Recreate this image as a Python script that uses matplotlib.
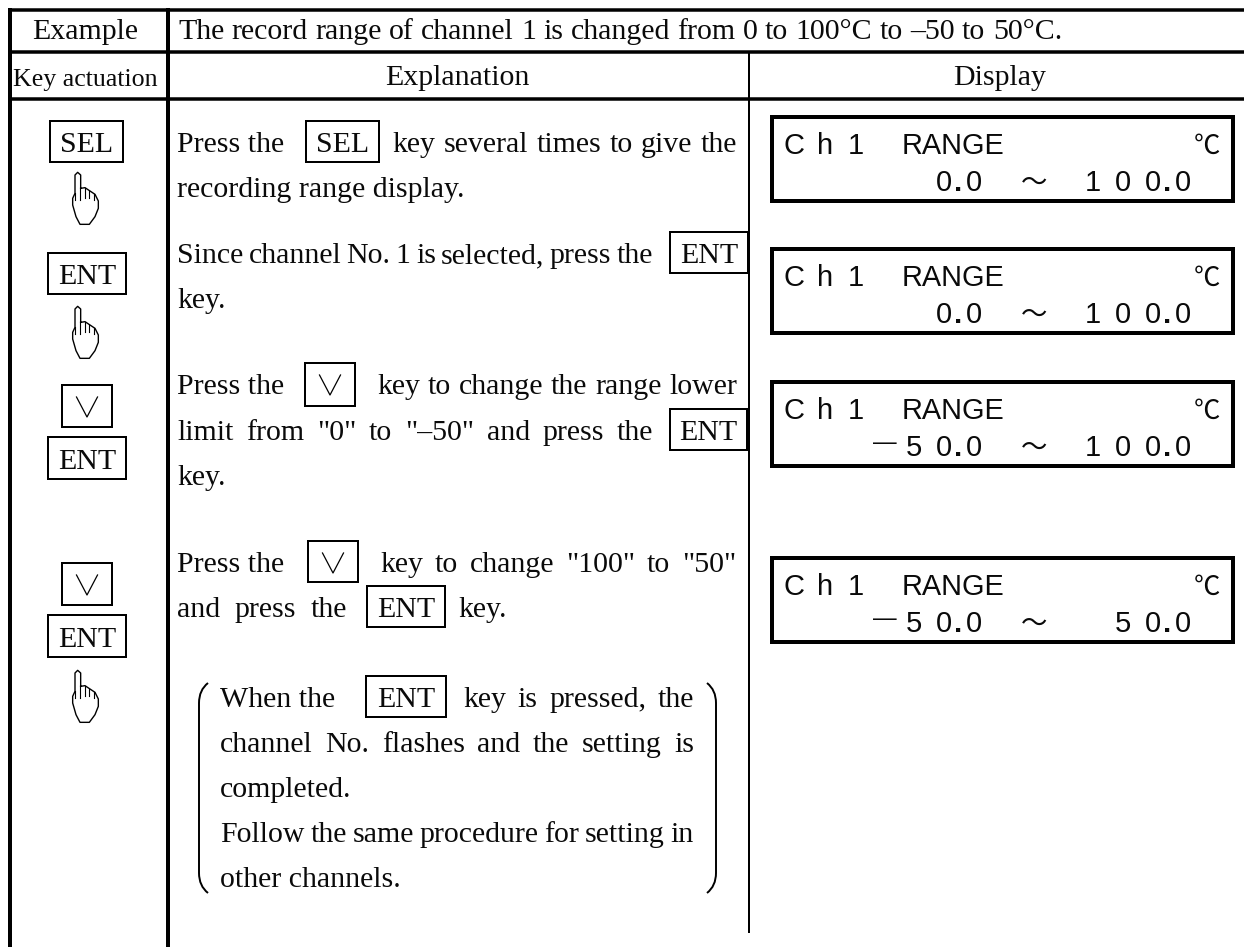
import matplotlib
matplotlib.use("Agg")
import matplotlib.pyplot as plt
from matplotlib.patches import Rectangle, PathPatch
from matplotlib.path import Path

plt.rcParams['font.family'] = ['Liberation Serif', 'DejaVu Sans']
W, H = 1244, 947
SERIF = 21.5
SANS = 'Liberation Sans'
fig = plt.figure(figsize=(W/100, H/100), dpi=100)
ax = fig.add_axes([0, 0, 1, 1])
ax.set_xlim(0, W); ax.set_ylim(H, 0); ax.axis('off')
fig.canvas.draw()
R = fig.canvas.get_renderer()

header_left = ["Example", "Key actuation"]
header_title = "The record range of channel 1 is changed from 0 to 100°C to –50 to 50°C."
header_cols = ["Explanation", "Display"]
lcd_lower = ["0.0", "0.0", "-50.0", "-50.0"]
lcd_upper = ["100.0", "100.0", "100.0", "50.0"]

def line(x0, y0, x1, y1, lw):
    ax.plot([x0, x1], [y0, y1], color='black', lw=lw*0.72, solid_capstyle='butt')

def txt(x, y, s, ha='left', size=SERIF, **k):
    return ax.text(x, y, s, ha=ha, va='baseline', fontsize=size, color='#0a0a0a', **k)

def box(x0, y0, x1, y1, s=None, lw=2):
    ax.add_patch(Rectangle((x0, y0), x1-x0, y1-y0, fill=False, ec='black', lw=lw*0.72))
    if s:
        txt((x0+x1)/2, (y0+y1)/2+10.5, s, ha='center')

def vee(x0, y0, x1, y1):
    box(x0, y0, x1, y1)
    cx = (x0+x1)/2
    ax.plot([cx-10.5, cx, cx+10.5], [y0+12, y0+32, y0+12], color='black', lw=0.9)

HAND_OUTLINE = [(62, 70), (75, 68), (90, 78), (105, 88), (115, 108), (115, 130), (105, 155), (88, 178),
                (60, 178), (48, 155), (38, 120), (38, 100), (45, 85), (45, 30), (53, 22), (62, 30), (62, 70)]
HAND_LINES = [(46, 85, 105), (60, 70, 105), (75, 70, 100), (88, 78, 100), (103, 88, 105)]

def hand(top):
    hx = lambda z: 60 + z/3
    hy = lambda z: top - 8 + z/3
    ax.plot([hx(p[0]) for p in HAND_OUTLINE], [hy(p[1]) for p in HAND_OUTLINE],
            color='black', lw=1.0, solid_joinstyle='round')
    for x, y0, y1 in HAND_LINES:
        ax.plot([hx(x)]*2, [hy(y0), hy(y1)], color='black', lw=0.8)

def justify(y, x0, x1, s):
    words = s.split()
    ts = [txt(0, y, w) for w in words]
    ws = [t.get_window_extent(R).width for t in ts]
    gap = (x1-x0-sum(ws))/max(1, len(words)-1)
    x = x0
    for t, w in zip(ts, ws):
        t.set_x(x); x += w+gap

# grid
line(8, 10, W, 10, 3.5); line(8, 52, W, 52, 3.5); line(8, 99, W, 99, 3.5)
line(9.5, 8, 9.5, H, 4); line(168, 8, 168, H, 4); line(749, 52, 749, 933, 2)

# headers
txt(85.5, 39, header_left[0], ha='center')
txt(85.5, 86, header_left[1], ha='center', size=18.6)
justify(39, 178, 1062, header_title)
txt(457, 85, header_cols[0], ha='center')
txt(1000, 85, header_cols[1], ha='center')

# key column
box(50, 121, 123, 162, "SEL"); hand(173)
box(48, 253, 126, 294, "ENT"); hand(307)
vee(62, 385, 112, 427); box(48, 437, 126, 479, "ENT")
vee(62, 563, 112, 605); box(48, 615, 126, 657, "ENT"); hand(671)

# explanation row 1
txt(177, 152, "Press the"); box(306, 121, 379, 162, "SEL")
justify(152, 392, 737, "key several times to give the")
txt(177, 197, "recording range display.")
# row 2
justify(263, 177, 653, "Since channel No. 1 is selected, press the")
box(670, 232, 748, 273, "ENT")
txt(177, 308, "key.")
# row 3
txt(177, 394, "Press the"); vee(305, 363, 355, 406)
justify(394, 377, 737, "key to change the range lower")
justify(440, 177, 653, 'limit from "0" to "–50" and press the')
box(670, 409, 747, 450, "ENT")
txt(177, 485, "key.")
# row 4
txt(177, 572, "Press the"); vee(308, 541, 358, 582)
justify(572, 380, 736, 'key to change "100" to "50"')
justify(617, 177, 347, "and press the")
box(367, 586, 445, 627, "ENT"); txt(458, 617, "key.")
# note
txt(220, 707, "When the"); box(366, 676, 446, 717, "ENT")
justify(707, 463, 694, "key is pressed, the")
justify(752, 220, 694, "channel No. flashes and the setting is")
txt(220, 797, "completed.")
justify(842, 220, 694, "Follow the same procedure for setting in")
txt(220, 887, "other channels.")
bl = Path([(208, 683), (199, 690), (199, 703), (199, 873), (199, 886), (208, 893)], [1, 3, 3, 2, 3, 3])
ax.add_patch(PathPatch(bl, fill=False, ec='black', lw=1.4))
br = Path([(707, 683), (716, 690), (716, 703), (716, 873), (716, 886), (707, 893)], [1, 3, 3, 2, 3, 3])
ax.add_patch(PathPatch(br, fill=False, ec='black', lw=1.4))

# LCD panels
def stxt(x, y, s, ha='center', size=21, **k):
    ax.text(x, y, s, family=SANS, fontsize=size, ha=ha, va='baseline', color='#0a0a0a', **k)

def lcd_number(y, s, last_digit_x):
    # digits sit 30 px apart, the point tucked before the last digit
    head, tail = s.split('.')
    stxt(last_digit_x, y, tail)
    stxt(last_digit_x-16, y, '.', weight='bold')
    x = last_digit_x-30
    for ch in reversed(head):
        if ch == '-':
            stxt(x+1, y-7, '—', size=17)
        else:
            stxt(x, y, ch)
        x -= 30

tops = [115, 247, 380, 556]
for top, lo, hi in zip(tops, lcd_lower, lcd_upper):
    ax.add_patch(Rectangle((772, top+2), 461, 84, fill=False, ec='black', lw=4*0.72))
    for x, s in [(794, "C"), (825, "h"), (856, "1")]:
        stxt(x, top+39, s)
    stxt(902, top+39, "RANGE", ha='left', size=20.8)
    ax.text(1220, top+39, "℃", family='Noto Sans CJK JP', fontsize=19, ha='right', va='baseline', color='#0a0a0a')
    lcd_number(top+76, lo, 974)
    ax.text(1034, top+76, "～", family='Noto Sans CJK JP', fontsize=19, ha='center', va='baseline', color='#0a0a0a')
    lcd_number(top+76, hi, 1183)

fig.savefig("out.png", dpi=100, facecolor='white')
